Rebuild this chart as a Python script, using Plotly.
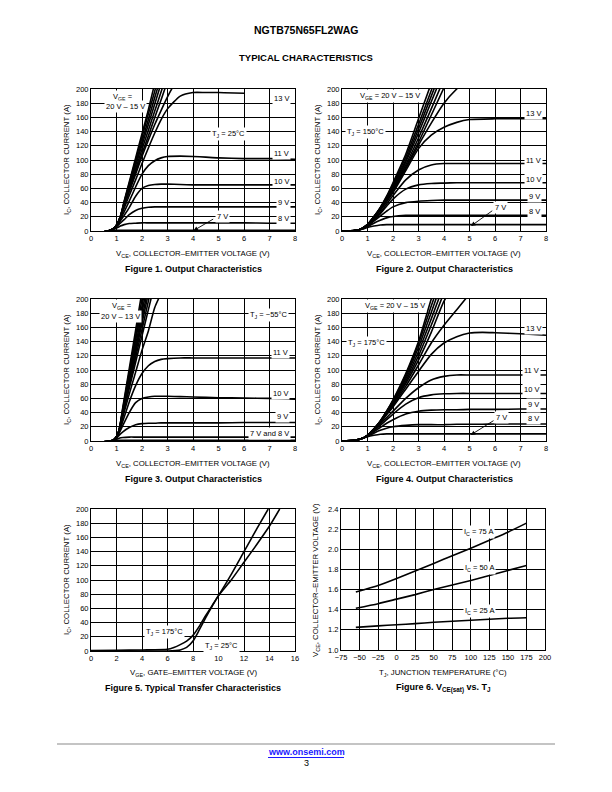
import plotly.graph_objects as go

N = None
W, H = 612, 792
FONT = "Liberation Sans, Arial, Helvetica, sans-serif"

# ---------------- Figure 1: Output characteristics, TJ = 25 C ----------------
F1_VCE = [0, 0.5, 0.7, 0.85, 1.0, 1.15, 1.3, 1.5, 1.75, 2.0, 2.25, 2.5, 2.75, 3.0, 3.5, 4.0, 4.5, 5.0, 6.0, 7.0, 8.0]
F1_IC_20V = [-1, -1, 0.5, 2.5, 8, 20, 42, 69, 103, 137, 171, 208, N, N, N, N, N, N, N, N, N]
F1_IC_19V = [-1, -1, 0.5, 2.5, 8, 20, 41, 67, 100, 132, 165, 197, 230, N, N, N, N, N, N, N, N]
F1_IC_18V = [-1, -1, 0.5, 2.5, 8, 20, 40, 65, 96, 126, 157, 188, 218, N, N, N, N, N, N, N, N]
F1_IC_17V = [-1, -1, 0.5, 2.5, 8, 20, 39, 63, 92, 121, 150, 179, 208, N, N, N, N, N, N, N, N]
F1_IC_16V = [-1, -1, 0.5, 2.5, 8, 20, 38, 60, 87, 115, 142, 169, 196, 224, N, N, N, N, N, N, N]
F1_IC_15V = [-1, -1, 0.5, 2.5, 8, 20, 37, 58, 83, 109, 134, 160, 185, 211, N, N, N, N, N, N, N]
F1_IC_14V = [-1, -1, 0.5, 2.5, 8, 19, 35, 55, 80, 105, 128, 150, 170, 189, 222, N, N, N, N, N, N]
F1_IC_13V = [-1, -1, 0.5, 2.5, 8, 18, 32, 50, 72, 95, 117, 138, 157, 172, 190, 195, 195, 195, 194, N, N]
F1_IC_11V = [-1, -1, 0.5, 2.5, 7, 16, 27, 42, 62, 80, 92, 99, 103, 105, 105.5, 105, 104, 103, 102, 102, 101]
F1_IC_10V = [-1, -1, 0.5, 2.5, 7, 14, 22, 33, 49, 60, 64, 65.5, 66, 66, 65.5, 65, 65, 65, 65, 65, 65]
F1_IC_9V = [-1, -1, 0.5, 2, 6, 11, 16, 23, 29, 32, 33.5, 34, 34, 34, 34, 34, 34, 34, 34, 34, 34]
F1_IC_8V = [-1, -1, 0.3, 1.5, 4, 7, 9, 10.5, 11, 11.5, 11.5, 11.5, 11.5, 11.5, 11.5, 11.5, 11.5, 11.5, 11.5, 11, 11]
F1_IC_7V = [-1, -1, 0, 0.5, 1, 1, 1, 1, 1, 1, 1, 1, 1, 1, 1, 1, 1, 1, 1, 1, 1]

# ---------------- Figure 2: TJ = 150 C ----------------
F2_VCE = [0, 0.5, 0.75, 1.0, 1.25, 1.5, 1.75, 2.0, 2.5, 3.0, 3.5, 4.0, 4.5, 5.0, 6.0, 7.0, 8.0]
F2_IC_20V = [0, 0.5, 3, 9, 20, 33, 49, 68, 108, 158, 208, N, N, N, N, N, N]
F2_IC_19V = [0, 0.5, 3, 9, 20, 33, 48, 66, 104, 150, 198, 245, N, N, N, N, N]
F2_IC_18V = [0, 0.5, 3, 9, 20, 32, 47, 64, 100, 144, 190, 236, N, N, N, N, N]
F2_IC_17V = [0, 0.5, 3, 9, 20, 32, 46, 62, 97, 138, 182, 226, N, N, N, N, N]
F2_IC_16V = [0, 0.5, 3, 9, 19, 31, 46, 60, 93, 131, 172, 214, N, N, N, N, N]
F2_IC_15V = [0, 0.5, 3, 9, 19, 31, 45, 58, 90, 125, 163, 202, N, N, N, N, N]
F2_IC_14V = [0, 0.5, 3, 9, 19, 30, 43, 56, 88, 121, 152, 180, 200, 215, N, N, N]
F2_IC_13V = [0, 0.5, 3, 9, 18, 29, 41, 54, 85, 116, 135, 146, 153, 157, 158, 158, 158]
F2_IC_11V = [0, 0.5, 2.5, 8, 16, 26, 38, 50, 72, 86, 93, 95, 95, 95, 95, 95, 95]
F2_IC_10V = [0, 0.5, 2.5, 8, 15, 24, 35, 45, 59, 65, 67, 67.5, 68, 68, 68, 68, 68]
F2_IC_9V = [0, 0.5, 2.5, 7, 14, 21, 28, 34, 40, 42, 43, 43.5, 43.5, 43.5, 43.5, 43.5, 43.5]
F2_IC_8V = [0, 0.5, 2.5, 6, 11, 15, 18.5, 20.5, 22, 22, 22, 22, 22, 22, 22, 22, 22]
F2_IC_7V = [0, 0.5, 2, 5, 7, 8.5, 9, 9, 9, 9, 9, 9, 9, 9, 9, 9, 9]

# ---------------- Figure 3: TJ = -55 C ----------------
F3_VCE = [0, 0.5, 0.75, 0.9, 1.0, 1.1, 1.25, 1.5, 1.75, 2.0, 2.25, 2.5, 2.75, 3.0, 3.5, 4.0, 5.0, 6.0, 7.0, 8.0]
F3_IC_20V = [-1, -1, 0, 2, 6, 15, 48, 102, 156, 211, N, N, N, N, N, N, N, N, N, N]
F3_IC_19V = [-1, -1, 0, 2, 6, 15, 46, 97, 148, 200, 251, N, N, N, N, N, N, N, N, N]
F3_IC_18V = [-1, -1, 0, 2, 6, 15, 44, 93, 142, 190, 239, N, N, N, N, N, N, N, N, N]
F3_IC_17V = [-1, -1, 0, 2, 6, 15, 43, 89, 135, 181, 228, N, N, N, N, N, N, N, N, N]
F3_IC_16V = [-1, -1, 0, 2, 6, 15, 41, 85, 129, 173, 217, N, N, N, N, N, N, N, N, N]
F3_IC_15V = [-1, -1, 0, 2, 6, 15, 40, 82, 124, 166, 208, N, N, N, N, N, N, N, N, N]
F3_IC_14V = [-1, -1, 0, 2, 6, 14, 39, 78, 118, 157, 197, 236, N, N, N, N, N, N, N, N]
F3_IC_13V = [-1, -1, 0, 2, 6, 14, 37, 74, 111, 148, 185, 222, N, N, N, N, N, N, N, N]
F3_IC_12V = [-1, -1, 0, 2, 6, 13, 34, 66, 97, 128, 155, 188, 208, N, N, N, N, N, N, N]
F3_IC_11V = [-1, -1, 0, 2, 5, 12, 28, 55, 78, 95, 106, 112, 115, 116, 117, 117, 117, 117, 117, 117]
F3_IC_10V = [-1, -1, 0, 2, 5, 11, 22, 40, 54, 60, 62, 63, 63, 63, 62.5, 62, 61, 60.5, 60, 59]
F3_IC_9V = [-1, -1, 0, 1.5, 4, 8, 13, 19, 23, 24.5, 25, 25, 25.5, 25.5, 25.5, 25.5, 25.5, 26, 26, 26]
F3_IC_8V = [-1, -1, 0, 1, 2.5, 4, 5, 5.5, 5.5, 5.5, 5.5, 5.5, 5.5, 5.5, 5.5, 5.5, 5.5, 5.5, 5.5, 5.5]
F3_IC_7V = [-1, -1, 0, 0.5, 1, 1, 1, 1, 1, 1, 1, 1, 1, 1, 1, 1, 1, 1, 1, 1]

# ---------------- Figure 4: TJ = 175 C ----------------
F4_VCE = [0, 0.5, 0.75, 1.0, 1.25, 1.5, 1.75, 2.0, 2.5, 3.0, 3.5, 4.0, 4.5, 5.0, 5.5, 6.0, 7.0, 8.0]
F4_IC_20V = [0, 1, 3, 8, 17, 28, 42, 58, 95, 140, 200, 255, N, N, N, N, N, N]
F4_IC_19V = [0, 1, 3, 8, 17, 28, 42, 57, 93, 137, 190, 243, N, N, N, N, N, N]
F4_IC_18V = [0, 1, 3, 8, 17, 28, 41, 56, 90, 132, 181, 232, N, N, N, N, N, N]
F4_IC_17V = [0, 1, 3, 8, 17, 28, 41, 55, 87, 126, 172, 220, N, N, N, N, N, N]
F4_IC_16V = [0, 1, 3, 8, 17, 27, 40, 54, 84, 120, 163, 209, N, N, N, N, N, N]
F4_IC_15V = [0, 1, 3, 8, 17, 27, 39, 52, 81, 114, 153, 197, 225, N, N, N, N, N]
F4_IC_14V = [0, 1, 3, 8, 16, 26, 38, 50, 77, 107, 138, 163, 185, 207, N, N, N, N]
F4_IC_13V = [0, 1, 3, 8, 16, 26, 37, 48, 73, 98, 122, 138, 147, 152, 153, 152.5, 151, 149]
F4_IC_11V = [0, 1, 3, 8, 15, 24, 33, 42, 60, 75, 86, 91, 93, 93, 93, 93, 93, 93]
F4_IC_10V = [0, 1, 3, 7.5, 14, 22, 30, 38, 52, 61, 65, 66.5, 67, 67, 67, 67, 67, 67]
F4_IC_9V = [0, 1, 3, 7, 13, 19, 25, 30, 38, 42, 43.5, 44, 44, 44.5, 44.5, 44.5, 45, 45]
F4_IC_8V = [0, 1, 3, 6.5, 11, 15, 18, 20, 22, 23, 23, 23, 23.5, 23.5, 23.5, 24, 24, 24]
F4_IC_7V = [0, 1, 3, 6, 8, 9.5, 10, 10, 10, 10, 10, 10, 10, 10, 10, 10, 10, 10]

# ---------------- Figure 5: Transfer characteristics ----------------
F5_VGE_25C = [0, 2, 4, 6, 6.6, 7, 7.5, 8, 8.5, 9, 9.5, 10, 11, 12, 13, 14, 14.8]
F5_IC_25C = [0, 0, 0, 0, 0.5, 1.5, 5, 14, 30, 47, 63, 78, 100, 125, 150, 176, 200]
F5_VGE_175C = [0, 2, 4, 6, 6.5, 7, 7.5, 8, 8.5, 9, 9.5, 10, 11, 12, 13, 13.9]
F5_IC_175C = [0.5, 1, 1.5, 2.5, 5, 9, 14, 22, 35, 50, 64, 78, 108, 140, 172, 200]

# ---------------- Figure 6: VCE(sat) vs TJ ----------------
F6_TJ = [-55, -25, 0, 25, 50, 75, 100, 125, 150, 175]
F6_VCE_75A = [1.575, 1.64, 1.71, 1.785, 1.86, 1.935, 2.01, 2.09, 2.17, 2.26]
F6_VCE_50A = [1.415, 1.46, 1.505, 1.55, 1.60, 1.645, 1.69, 1.74, 1.79, 1.84]
F6_VCE_25A = [1.225, 1.24, 1.25, 1.262, 1.275, 1.285, 1.295, 1.305, 1.315, 1.32]

F6_XTICKS = [-75, -50, -25, 0, 25, 50, 75, 100, 125, 150, 175, 200]

# ---------------- layout helpers (pixel boxes of the plot areas) ----------------
BOXES = {
    1: (91, 295, 89, 231),
    2: (342, 546, 89, 231),
    3: (91, 295, 299, 441),
    4: (342, 546, 299, 441),
    5: (91, 295, 509, 651),
    6: (341, 545, 509, 650),
}


def px(x):
    return x / W


def py(y):
    return 1 - y / H


fig = go.Figure()

LINE = dict(color="black", width=1.6, shape="spline", smoothing=0.6)


def add_curves(n, xs, ylists):
    for ys in ylists:
        fig.add_trace(go.Scatter(x=xs, y=ys, mode="lines", line=LINE,
                                 xaxis=f"x{n}", yaxis=f"y{n}", hoverinfo="skip",
                                 connectgaps=False))


add_curves(1, F1_VCE, [F1_IC_20V, F1_IC_19V, F1_IC_18V, F1_IC_17V, F1_IC_16V, F1_IC_15V,
                       F1_IC_14V, F1_IC_13V, F1_IC_11V, F1_IC_10V, F1_IC_9V, F1_IC_8V, F1_IC_7V])
add_curves(2, F2_VCE, [F2_IC_20V, F2_IC_19V, F2_IC_18V, F2_IC_17V, F2_IC_16V, F2_IC_15V,
                       F2_IC_14V, F2_IC_13V, F2_IC_11V, F2_IC_10V, F2_IC_9V, F2_IC_8V, F2_IC_7V])
add_curves(3, F3_VCE, [F3_IC_20V, F3_IC_19V, F3_IC_18V, F3_IC_17V, F3_IC_16V, F3_IC_15V,
                       F3_IC_14V, F3_IC_13V, F3_IC_12V, F3_IC_11V, F3_IC_10V, F3_IC_9V,
                       F3_IC_8V, F3_IC_7V])
add_curves(4, F4_VCE, [F4_IC_20V, F4_IC_19V, F4_IC_18V, F4_IC_17V, F4_IC_16V, F4_IC_15V,
                       F4_IC_14V, F4_IC_13V, F4_IC_11V, F4_IC_10V, F4_IC_9V, F4_IC_8V, F4_IC_7V])
for xs, ys in [(F5_VGE_25C, F5_IC_25C), (F5_VGE_175C, F5_IC_175C)]:
    fig.add_trace(go.Scatter(x=xs, y=ys, mode="lines", line=LINE, xaxis="x5", yaxis="y5",
                             hoverinfo="skip"))
for ys in [F6_VCE_75A, F6_VCE_50A, F6_VCE_25A]:
    fig.add_trace(go.Scatter(x=F6_TJ, y=ys, mode="lines", line=LINE, xaxis="x6", yaxis="y6",
                             hoverinfo="skip"))

TICKFONT = dict(family=FONT, size=7.5, color="black")
layout_axes = {}
for n, (x0, x1, yt, yb) in BOXES.items():
    common = dict(showgrid=True, gridcolor="black", gridwidth=1, showline=True, mirror=True,
                  linecolor="black", linewidth=1, zeroline=False, ticks="", tickfont=TICKFONT,
                  fixedrange=True, automargin=False)
    ax = dict(domain=[px(x0), px(x1)], anchor=f"y{n}", **common)
    ay = dict(domain=[py(yb), py(yt)], anchor=f"x{n}", **common)
    if n <= 4:
        ax.update(range=[0, 8], dtick=1, tick0=0)
        ay.update(range=[0, 200], dtick=20, tick0=0)
    elif n == 5:
        ax.update(range=[0, 16], dtick=2, tick0=0)
        ay.update(range=[0, 200], dtick=20, tick0=0)
    else:
        ax.update(range=[-75, 200], tickvals=F6_XTICKS)
        ay.update(range=[1.0, 2.4], dtick=0.2, tick0=1.0, tickformat=".1f")
    key = "" if n == 1 else str(n)
    layout_axes[f"xaxis{key}"] = ax
    layout_axes[f"yaxis{key}"] = ay

fig.update_layout(**layout_axes)

ann = []


def page_text(x, y, text, size=7.5, bold=False, angle=0, color="black", **kw):
    t = f"<b>{text}</b>" if bold else text
    d = dict(x=px(x), y=py(y), xref="paper", yref="paper", text=t, showarrow=False,
             xanchor="center", yanchor="middle", textangle=angle,
             font=dict(family=FONT, size=size, color=color))
    d.update(kw)
    ann.append(d)


def label(n, x, y, text, size=7.5):
    ann.append(dict(x=x, y=y, xref=f"x{n}", yref=f"y{n}", text=text, showarrow=False,
                    xanchor="center", yanchor="middle", bgcolor="white", borderpad=1,
                    font=dict(family=FONT, size=size, color="black")))


def arrow(n, x, y, ax_, ay_):
    ann.append(dict(x=x, y=y, xref=f"x{n}", yref=f"y{n}", ax=ax_, ay=ay_,
                    axref=f"x{n}", ayref=f"y{n}", text="", showarrow=True,
                    arrowhead=2, arrowsize=1, arrowwidth=0.9, arrowcolor="black", standoff=0))


# Header
page_text(306, 30, "NGTB75N65FL2WAG", size=10.5, bold=True)
page_text(306, 57, "TYPICAL CHARACTERISTICS", size=9.5, bold=True)

XT_VCE = "V<sub>CE</sub>, COLLECTOR\u2013EMITTER VOLTAGE (V)"
YT_IC = "I<sub>C</sub>, COLLECTOR CURRENT (A)"
for (cx, xy, yx, cy, cap, xt, yt) in [
    (193, 254, 67, 160, "Figure 1. Output Characteristics", XT_VCE, YT_IC),
    (444, 254, 318, 160, "Figure 2. Output Characteristics", XT_VCE, YT_IC),
    (193, 464, 67, 370, "Figure 3. Output Characteristics", XT_VCE, YT_IC),
    (444, 464, 318, 370, "Figure 4. Output Characteristics", XT_VCE, YT_IC),
    (193, 673, 67, 580, "Figure 5. Typical Transfer Characteristics",
     "V<sub>GE</sub>, GATE\u2013EMITTER VOLTAGE (V)", YT_IC),
    (443, 673, 316, 580, "Figure 6. V<sub>CE(sat)</sub> vs. T<sub>J</sub>",
     "T<sub>J</sub>, JUNCTION TEMPERATURE (\u00b0C)",
     "V<sub>CE</sub>, COLLECTOR\u2013EMITTER VOLTAGE (V)"),
]:
    page_text(cx, xy, xt, size=7.8)
    page_text(yx, cy, yt, size=7.8, angle=-90)
    page_text(cx, xy + 15, cap, size=9, bold=True)

# Figure 1 labels
label(1, 1.27, 189, "V<sub>GE</sub> =")
label(1, 1.37, 176, "20 V \u2013 15 V")
label(1, 5.39, 137, "T<sub>J</sub> = 25\u00b0C")
label(1, 7.48, 186, "13 V")
label(1, 7.48, 109, "11 V")
label(1, 7.48, 70, "10 V")
label(1, 7.55, 40, "9 V")
label(1, 7.55, 18, "8 V")
label(1, 5.15, 20, "7 V")
arrow(1, 4.02, 0.5, 4.85, 18)

# Figure 2 labels
label(2, 1.9, 190, "V<sub>GE</sub> = 20 V \u2013 15 V")
label(2, 0.92, 139, "T<sub>J</sub> = 150\u00b0C")
label(2, 7.5, 165, "13 V")
label(2, 7.5, 100, "11 V")
label(2, 7.5, 73, "10 V")
label(2, 7.55, 49, "9 V")
label(2, 7.55, 27, "8 V")
label(2, 6.2, 33, "7 V")
arrow(2, 5.06, 7, 5.95, 30)

# Figure 3 labels
label(3, 1.21, 190, "V<sub>GE</sub> =")
label(3, 1.15, 176, "20 V \u2013 13 V")
label(3, 6.96, 178, "T<sub>J</sub> = \u221255\u00b0C")
label(3, 7.45, 124, "11 V")
label(3, 7.45, 67, "10 V")
label(3, 7.5, 34, "9 V")
label(3, 7.0, 11, "7 V and 8 V")

# Figure 4 labels
label(4, 2.09, 190, "V<sub>GE</sub> = 20 V \u2013 15 V")
label(4, 0.98, 138, "T<sub>J</sub> = 175\u00b0C")
label(4, 7.5, 158, "13 V")
label(4, 7.45, 99, "11 V")
label(4, 7.45, 73, "10 V")
label(4, 7.5, 52, "9 V")
label(4, 7.5, 32, "8 V")
label(4, 6.26, 33, "7 V")
arrow(4, 5.05, 8.5, 6.0, 30)

# Figure 5 labels
label(5, 5.8, 27, "T<sub>J</sub> = 175\u00b0C")
label(5, 10.25, 7.5, "T<sub>J</sub> = 25\u00b0C")

# Figure 6 labels
label(6, 110, 2.175, "I<sub>C</sub> = 75 A")
label(6, 112, 1.81, "I<sub>C</sub> = 50 A")
label(6, 112, 1.383, "I<sub>C</sub> = 25 A")

# Footer
page_text(306, 752, "www.onsemi.com", size=9, bold=True, color="#1a1aff")
page_text(306, 763, "3", size=9)

shapes = [
    dict(type="line", xref="paper", yref="paper", x0=px(57), x1=px(555), y0=py(744), y1=py(744),
         line=dict(color="#c4c4c4", width=2)),
    dict(type="line", xref="paper", yref="paper", x0=px(268), x1=px(344), y0=py(757.5), y1=py(757.5),
         line=dict(color="#1a1aff", width=1)),
]

fig.update_layout(width=W, height=H, margin=dict(l=0, r=0, t=0, b=0, autoexpand=False),
                  paper_bgcolor="white", plot_bgcolor="white", showlegend=False,
                  annotations=ann, shapes=shapes, font=dict(family=FONT, color="black"))

fig.write_html("out.html",
               config={"displayModeBar": False, "staticPlot": True},
               post_script="document.body.style.margin='0px';document.body.style.padding='0px';"
                           "document.documentElement.style.overflow='hidden';")
